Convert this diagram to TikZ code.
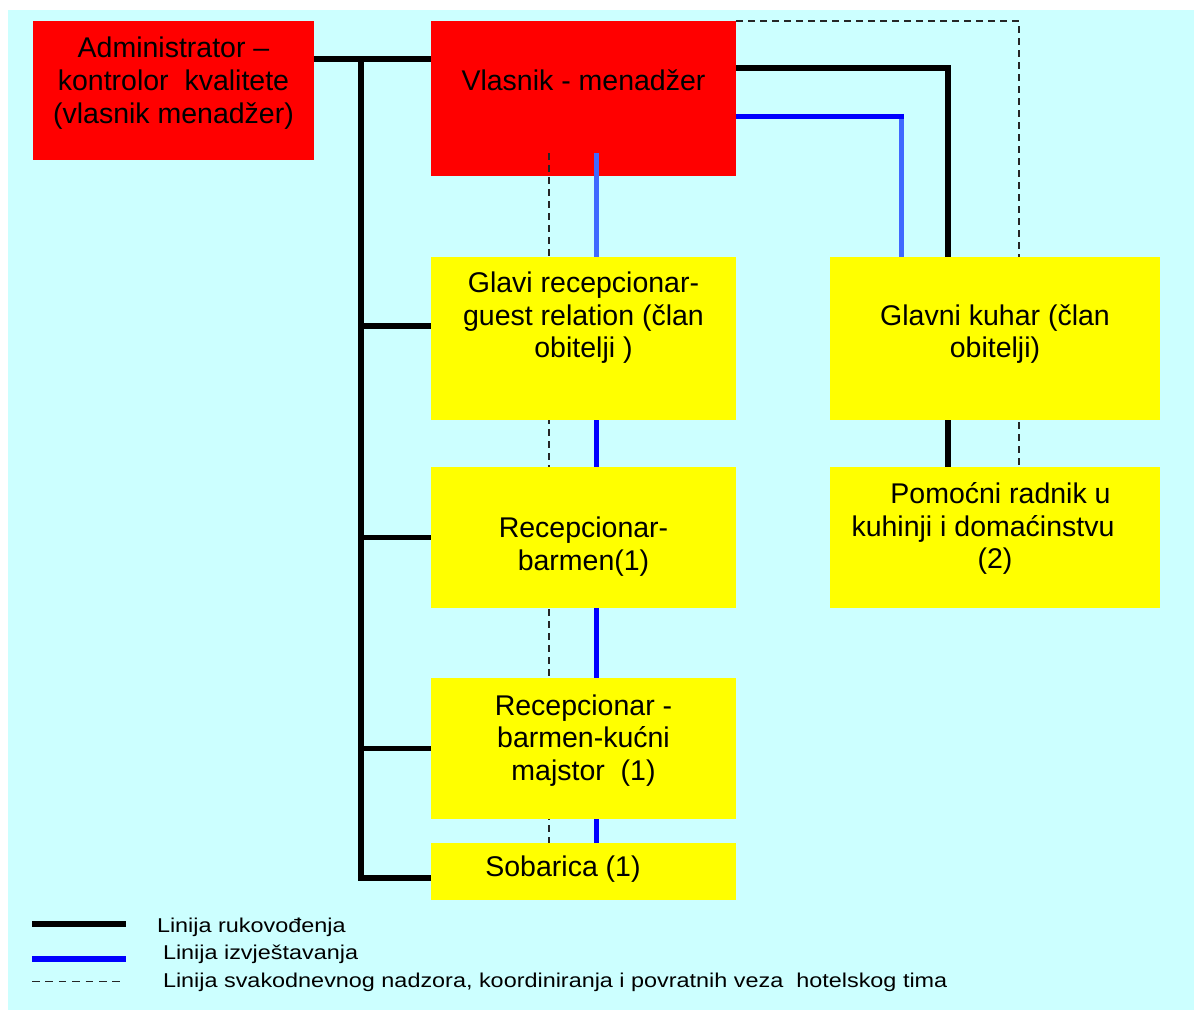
\documentclass[tikz,border=0pt]{standalone}
\usepackage{fontspec}
\setmainfont{Liberation Sans}
\usepackage{graphicx}
\definecolor{bgcyan}{RGB}{204,255,255}
\definecolor{boxred}{RGB}{255,0,0}
\definecolor{boxyel}{RGB}{255,255,0}
\definecolor{repblue}{RGB}{0,0,255}
\definecolor{replight}{RGB}{64,104,255}
\newcommand{\mainlbl}{\fontsize{28.5}{32.8}\selectfont}
\newcommand{\leglbl}{\fontsize{20}{24}\selectfont}
\begin{document}
\begin{tikzpicture}[x=1pt,y=-1pt,
  redbox/.style={fill=boxred, draw=none, inner sep=0pt, outer sep=0pt},
  lbl/.style={anchor=base, inner sep=0pt, outer sep=0pt, font=\mainlbl},
  lead/.style={line width=5.7pt, black, line join=miter},
  report/.style={line width=5pt, repblue},
  daily/.style={line width=1.5pt, dash pattern=on 7pt off 5pt, black!85},
  legtext/.style={anchor=base west, inner sep=0pt, outer sep=0pt, font=\leglbl}
]
% background
\fill[white] (0,0) rectangle (1194,1010);
\fill[bgcyan] (8,10) rectangle (1194,1010);
\useasboundingbox (0,0) rectangle (1194,1010);

% red boxes
\node[redbox, minimum width=281pt, minimum height=139pt] (adm) at (173.5,90.5) {};
\node[redbox, minimum width=305pt, minimum height=155pt] (vl) at (583.5,98.5) {};

% yellow box geometry (filled later, positions needed now)
\path (583.5,338.5) node[inner sep=0pt, outer sep=0pt, minimum width=305pt, minimum height=163pt] (gr) {};
\path (583.5,537.5) node[inner sep=0pt, outer sep=0pt, minimum width=305pt, minimum height=141pt] (rb) {};
\path (583.5,748.5) node[inner sep=0pt, outer sep=0pt, minimum width=305pt, minimum height=141pt] (rbk) {};
\path (583.5,871.5) node[inner sep=0pt, outer sep=0pt, minimum width=305pt, minimum height=57pt] (sob) {};
\path (995,338.5) node[inner sep=0pt, outer sep=0pt, minimum width=330pt, minimum height=163pt] (gk) {};
\path (995,537.5) node[inner sep=0pt, outer sep=0pt, minimum width=330pt, minimum height=141pt] (pr) {};

% helper coordinates
\coordinate (tTop) at (361,59);
\coordinate (grj) at ([yshift=12.5pt]gr.west);
\coordinate (sobj) at ([yshift=-6.5pt]sob.west);
\coordinate (vlk) at ([yshift=30.5pt]vl.east);
\coordinate (kc) at (948,68);
\coordinate (vlb) at ([yshift=-17.5pt]vl.east);
\coordinate (bc) at (901,116);
\coordinate (vb) at (596,153);
\coordinate (dv) at (549,153);
\coordinate (dc) at (1019,21);

% black lines (lines of management)
\draw[lead] (adm.east |- tTop) -- (vl.west |- tTop);
\draw[lead] (tTop) -- (tTop |- sobj) -- (sobj);
\draw[lead] (tTop |- grj) -- (grj);
\draw[lead] (tTop |- rb.west) -- (rb.west);
\draw[lead] (tTop |- rbk.west) -- (rbk.west);
\draw[lead] (vlk) -- (kc) -- (kc |- pr.north);

% blue lines (reporting)
\draw[report, replight] ([yshift=2.5pt]bc) -- (bc |- gk.north);
\draw[report] (vlb) -- ([xshift=2.5pt]bc);
\draw[report] (vb) -- (vb |- sob.north);
\draw[report, replight] (vb) -- (vb |- gr.north);

% dashed lines (daily supervision)
\draw[daily] (dv) -- (dv |- sob.north);
\draw[daily] (vl.north east) -- (dc) -- (dc |- pr.north);

% yellow boxes
\fill[boxyel] (gr.north west) rectangle (gr.south east);
\fill[boxyel] (rb.north west) rectangle (rb.south east);
\fill[boxyel] (rbk.north west) rectangle (rbk.south east);
\fill[boxyel] (sob.north west) rectangle (sob.south east);
\fill[boxyel] (gk.north west) rectangle (gk.south east);
\fill[boxyel] (pr.north west) rectangle (pr.south east);

% texts
\node[lbl] (admT) at (173.5,57.5) {\parbox[t]{320pt}{\centering Administrator –\\kontrolor~~kvalitete\\(vlasnik menadžer)}};
\node[lbl] (vlT) at (583.5,90) {\parbox[t]{320pt}{\centering Vlasnik - menadžer}};
\node[lbl] (grT) at (583.5,292.3) {\parbox[t]{320pt}{\centering Glavi recepcionar-\\guest relation (član\\obitelji )}};
\node[lbl] (gkT) at (995,325) {\parbox[t]{320pt}{\centering Glavni kuhar (član\\obitelji)}};
\node[lbl] (rbT) at (583.5,537.3) {\parbox[t]{320pt}{\centering Recepcionar-\\barmen(1)}};
\node[lbl] (prT) at (995,503.3) {\parbox[t]{340pt}{\centering \hspace*{11pt}Pomoćni radnik u\\kuhinji i domaćinstvu\hspace*{24pt}\mbox{}\\(2)}};
\node[lbl] (rbkT) at (583.5,715) {\parbox[t]{320pt}{\centering Recepcionar -\\barmen-kućni\\majstor~~(1)}};
\node[lbl] (sobT) at (563,876.7) {\parbox[t]{320pt}{\centering Sobarica (1)}};

% legend
\draw[line width=6pt, black] (32,924.3) -- (126,924.3);
\draw[line width=6pt, repblue] (32,959) -- (126,959);
\draw[line width=1.5pt, black!85, dash pattern=on 7.5pt off 5.9pt] (32,981.7) -- (122,981.7);
\node[legtext] (leg1) at (157,932.3) {\scalebox{1.17}[1]{Linija rukovođenja}};
\node[legtext] (leg2) at (163,959) {\scalebox{1.17}[1]{Linija izvještavanja}};
\node[legtext] (leg3) at (163,987.3) {\scalebox{1.17}[1]{Linija svakodnevnog nadzora, koordiniranja i povratnih veza~~hotelskog tima}};
\end{tikzpicture}
\end{document}
